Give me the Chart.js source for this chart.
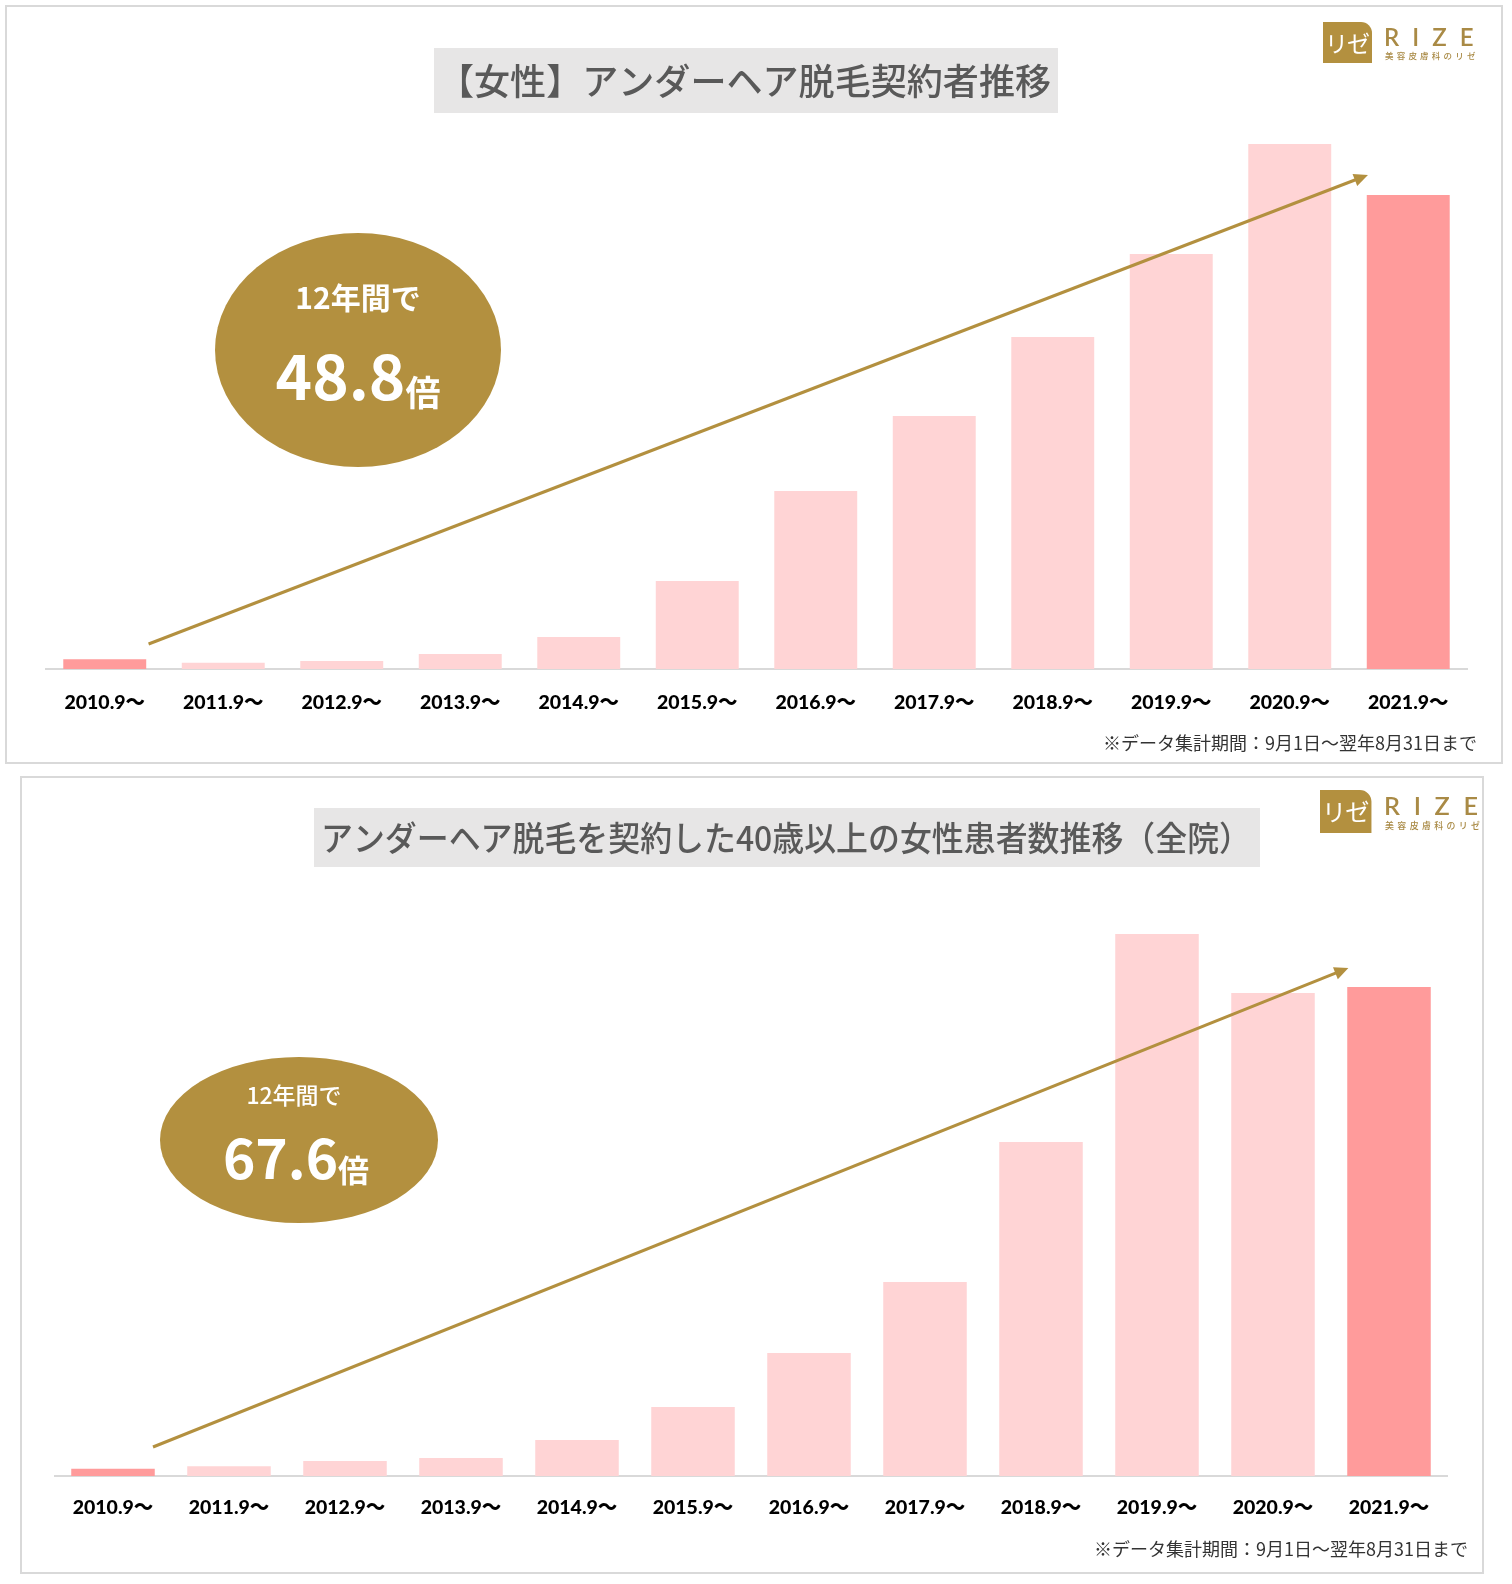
<!DOCTYPE html>
<html><head><meta charset="utf-8">
<script src="https://cdn.jsdelivr.net/npm/chart.js@4"></script>
<style>
html,body{margin:0;padding:0;background:#fff;}
#page{position:relative;width:1512px;height:1584px;overflow:hidden;background:#fff;}
.panel{position:absolute;border:2px solid #d9d9d9;box-sizing:border-box;}
.cw{position:absolute;left:0;width:1512px;}
</style></head><body>
<div id="page">
<div class="panel" style="left:5px;top:5px;width:1498px;height:759px"></div>
<div class="panel" style="left:20px;top:776px;width:1464px;height:798px"></div>
<div class="cw" style="top:0;height:770px"><canvas id="c1" width="1512" height="770"></canvas></div>
<div class="cw" style="top:770px;height:814px"><canvas id="c2" width="1512" height="814"></canvas></div>
</div>
<script>
// ---- data ----
const categories = ['2010.9～','2011.9～','2012.9～','2013.9～','2014.9～','2015.9～','2016.9～','2017.9～','2018.9～','2019.9～','2020.9～','2021.9～'];
const womenUnderhairContracts = [9.7, 6.3, 8, 15, 32, 88, 178, 253, 332, 415, 525, 474];
const women40PlusPatients = [7.2, 9.7, 15, 18, 36, 69, 123, 194, 334, 542, 483, 489];
const highlightCategories = ['2010.9～','2021.9～'];
const title1 = '【女性】アンダーヘア脱毛契約者推移';
const title2 = 'アンダーヘア脱毛を契約した40歳以上の女性患者数推移（全院）';
const growth1 = '48.8';
const growth2 = '67.6';
const periodLabel = '12年間で';
const timesLabel = '倍';
const noteText = '※データ集計期間：9月1日～翌年8月31日まで';
const trend1 = {from:[0.37, 25], to:[10.66, 494]};
const trend2 = {from:[0.345, 29], to:[10.65, 508]};

const GOLD = '#b3903f';
const HI = '#ff9b9b';
const LO = '#ffd4d5';
const JP = "'Noto Sans CJK JP'";

function barColors(){ return categories.map(c => highlightCategories.includes(c) ? HI : LO); }

function roundRectTR(ctx,x,y,w,h,r){
  ctx.beginPath();
  ctx.moveTo(x,y); ctx.lineTo(x+w-r,y); ctx.arcTo(x+w,y,x+w,y+r,r);
  ctx.lineTo(x+w,y+h); ctx.lineTo(x,y+h); ctx.closePath();
}

function drawLogo(ctx,x,y,s){
  ctx.save();
  ctx.fillStyle = GOLD;
  roundRectTR(ctx,x,y,49*s,41*s,11*s); ctx.fill();
  ctx.fillStyle = '#fff';
  ctx.font = `400 ${23*s}px ${JP}`;
  ctx.letterSpacing = `${-1*s}px`;
  ctx.textAlign='center'; ctx.textBaseline='middle';
  ctx.fillText('リゼ', x+24*s, y+21*s);
  ctx.fillStyle = '#a98a45';
  ctx.textAlign='left';
  ctx.font = `600 ${24*s}px Lato`;
  ctx.letterSpacing = `${13*s}px`;
  ctx.fillText('RIZE', x+61*s, y+16*s);
  ctx.font = `500 ${8.5*s}px ${JP}`;
  ctx.letterSpacing = `${3.2*s}px`;
  ctx.fillText('美容皮膚科のリゼ', x+62*s, y+34*s);
  ctx.restore();
}

function drawFitText(ctx,text,x,y,width,font,color){
  ctx.save();
  ctx.font = font; ctx.fillStyle = color; ctx.textBaseline='middle'; ctx.textAlign='left';
  const w = ctx.measureText(text).width;
  ctx.translate(x,y); ctx.scale(width/w,1);
  ctx.fillText(text,0,0);
  ctx.restore();
}

function makeDecor(d){
  return {
    id:'decor'+d.id,
    afterDatasetsDraw(chart){
      const ctx = chart.ctx, xs = chart.scales.x, ys = chart.scales.y;
      const x0 = xs.getPixelForValue(d.trend.from[0]), y0 = ys.getPixelForValue(d.trend.from[1]);
      const x1 = xs.getPixelForValue(d.trend.to[0]), y1 = ys.getPixelForValue(d.trend.to[1]);
      const ang = Math.atan2(y1-y0,x1-x0), L = 14, W = 6.5;
      ctx.save();
      ctx.strokeStyle = GOLD; ctx.fillStyle = GOLD; ctx.lineWidth = 3;
      ctx.beginPath(); ctx.moveTo(x0,y0);
      ctx.lineTo(x1-Math.cos(ang)*L*0.8, y1-Math.sin(ang)*L*0.8); ctx.stroke();
      ctx.beginPath(); ctx.moveTo(x1,y1);
      ctx.lineTo(x1-Math.cos(ang)*L - Math.sin(ang)*W, y1-Math.sin(ang)*L + Math.cos(ang)*W);
      ctx.lineTo(x1-Math.cos(ang)*L + Math.sin(ang)*W, y1-Math.sin(ang)*L - Math.cos(ang)*W);
      ctx.closePath(); ctx.fill();
      ctx.restore();
    },
    afterDraw(chart){
      const ctx = chart.ctx, o = d.offset;
      ctx.save();
      ctx.fillStyle = '#e7e6e6';
      ctx.fillRect(d.box[0], d.box[1]-o, d.box[2], d.box[3]);
      drawFitText(ctx, d.title, d.titleX, d.titleY-o, d.titleW, `500 ${d.titleSize}px ${JP}`, '#595959');
      ctx.fillStyle = GOLD;
      ctx.beginPath(); ctx.ellipse(d.ell[0], d.ell[1]-o, d.ell[2], d.ell[3], 0, 0, Math.PI*2); ctx.fill();
      ctx.fillStyle = '#fff';
      ctx.textAlign='center'; ctx.textBaseline='middle';
      ctx.font = `${d.l1w} ${d.l1s}px ${JP}`;
      ctx.fillText(periodLabel, d.ell[0]+d.l1dx, d.l1y-o);
      ctx.textBaseline='alphabetic';
      ctx.font = `700 ${d.numS}px ${JP}`;
      const wn = ctx.measureText(d.growth).width;
      ctx.font = `700 ${d.baiS}px ${JP}`;
      const wb = ctx.measureText(timesLabel).width;
      const sx = d.ell[0]+d.numDx-(wn+wb)/2;
      ctx.textAlign='left';
      ctx.font = `700 ${d.numS}px ${JP}`;
      ctx.fillText(d.growth, sx, d.numY-o);
      ctx.font = `700 ${d.baiS}px ${JP}`;
      ctx.fillText(timesLabel, sx+wn, d.numY-o+d.baiDy);
      ctx.fillStyle = '#333';
      ctx.textAlign='right'; ctx.textBaseline='middle';
      ctx.font = `400 18px ${JP}`;
      ctx.fillText(noteText, d.noteX, d.noteY-o);
      ctx.restore();
      drawLogo(ctx, d.logo[0], d.logo[1]-o, d.logo[2]);
    }
  };
}

function makeChart(id, values, cfg){
  return new Chart(document.getElementById(id), {
    type:'bar',
    data:{labels:categories, datasets:[{data:values, backgroundColor:barColors(), borderWidth:0,
      categoryPercentage:1, barPercentage:cfg.barPct}]},
    options:{
      responsive:false, animation:false, devicePixelRatio:1,
      layout:{padding:{left:cfg.left, right:cfg.right, top:cfg.top, bottom:0}},
      plugins:{legend:{display:false}, tooltip:{enabled:false}},
      scales:{
        x:{grid:{display:false, drawTicks:false}, border:{display:true, color:'#d9d9d9', width:2},
           ticks:{color:'#000', padding:cfg.tickPad, font:{family:"Lato, 'Noto Sans CJK JP'", weight:'900', size:19.5}},
           afterFit(s){ s.height = cfg.xh; }},
        y:{display:false, min:0, max:cfg.max}
      }
    },
    plugins:[makeDecor(cfg.decor)]
  });
}

makeChart('c1', womenUnderhairContracts, {
  barPct:0.70, left:45.5, right:44.5, top:69, xh:101, max:600, tickPad:22,
  decor:{id:1, offset:0, trend:trend1, title:title1,
    box:[434,48,624,65], titleX:438, titleY:81, titleW:613, titleSize:36,
    ell:[358,350,143,117], l1w:700, l1s:30, l1dx:0, l1y:298,
    growth:growth1, numS:62, baiS:35, numDx:0, numY:400, baiDy:6,
    noteX:1477, noteY:743, logo:[1323,22,1]}
});

makeChart('c2', women40PlusPatients, {
  barPct:0.72, left:55, right:65, top:56, xh:108, max:650, tickPad:20,
  decor:{id:2, offset:770, trend:trend2, title:title2,
    box:[314,808,946,59], titleX:321, titleY:838, titleW:930, titleSize:34,
    ell:[299,1140,139,83], l1w:500, l1s:23, l1dx:-5, l1y:1095,
    growth:growth2, numS:55, baiS:31, numDx:-3, numY:1179, baiDy:3,
    noteX:1468, noteY:1549, logo:[1320,790,1.05]}
});
</script>
</body></html>
